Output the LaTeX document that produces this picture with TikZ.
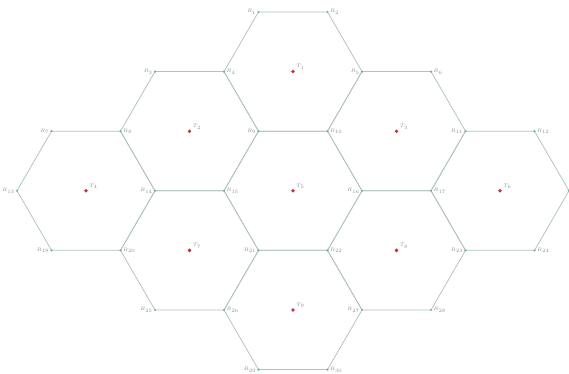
\documentclass[tikz,border=0pt]{standalone}
\usepackage{tikz}
\usetikzlibrary{positioning,backgrounds}
\definecolor{Edge}{HTML}{AFC3B9}
\definecolor{Corner}{HTML}{6FB0A2}
\definecolor{Site}{HTML}{C8323C}
\definecolor{Muted}{HTML}{8A8F94}
\tikzset{
  cell/.style={draw=Edge,line width=.75pt,line join=round},
  corner/.style={circle,fill=Corner,minimum size=2.4pt,inner sep=0pt},
  site/.style={circle,fill=Site,minimum size=3.8pt,inner sep=0pt},
  tag/.style={font=\fontsize{4}{4}\selectfont,text=Muted,inner sep=.8pt}
}

\begin{document}
\begin{tikzpicture}[x=34.5pt,y=59.6pt]
  \useasboundingbox (-8.493,-3.074) rectangle (8,3.201);
  % corners of the cells
  \foreach \a/\b/\k/\s in {-1/3/1/left, 1/3/2/right,
      -4/2/3/left, -2/2/4/right, 2/2/5/left, 4/2/6/right,
      -7/1/7/left, -5/1/8/right, -1/1/9/left, 1/1/10/right, 5/1/11/left, 7/1/12/right,
      -8/0/13/left, -4/0/14/left, -2/0/15/right, 2/0/16/left, 4/0/17/right,
      -7/-1/19/left, -5/-1/20/right, -1/-1/21/left, 1/-1/22/right, 5/-1/23/left, 7/-1/24/right,
      -4/-2/25/left, -2/-2/26/right, 2/-2/27/left, 4/-2/28/right,
      -1/-3/29/left, 1/-3/30/right} {
    \pgfmathtruncatemacro\ia{\a+8}
    \pgfmathtruncatemacro\ib{\b+3}
    \node[corner,label={[tag]\s:$R_{\k}$}] (p\ia-\ib) at (\a,\b) {};
  }
  \node[corner] (p16-3) at (8,0) {}; % right end, at the page edge
  % sites and hexagonal cells
  \foreach \a/\b [count=\n] in {0/2, -3/1, 3/1, -6/0, 0/0, 6/0, -3/-1, 3/-1, 0/-2} {
    \node[site,label={[tag,label distance=.5pt]25:$T_{\n}$}] (t\n) at (\a,\b) {};
    \pgfmathtruncatemacro\xr{\a+10}
    \pgfmathtruncatemacro\xs{\a+9}
    \pgfmathtruncatemacro\xt{\a+7}
    \pgfmathtruncatemacro\xl{\a+6}
    \pgfmathtruncatemacro\ym{\b+3}
    \pgfmathtruncatemacro\yt{\b+4}
    \pgfmathtruncatemacro\yb{\b+2}
    \begin{scope}[on background layer]
      \draw[cell] (p\xr-\ym.center) -- (p\xs-\yt.center) -- (p\xt-\yt.center)
        -- (p\xl-\ym.center) -- (p\xt-\yb.center) -- (p\xs-\yb.center) -- cycle;
    \end{scope}
  }
\end{tikzpicture}
\end{document}
